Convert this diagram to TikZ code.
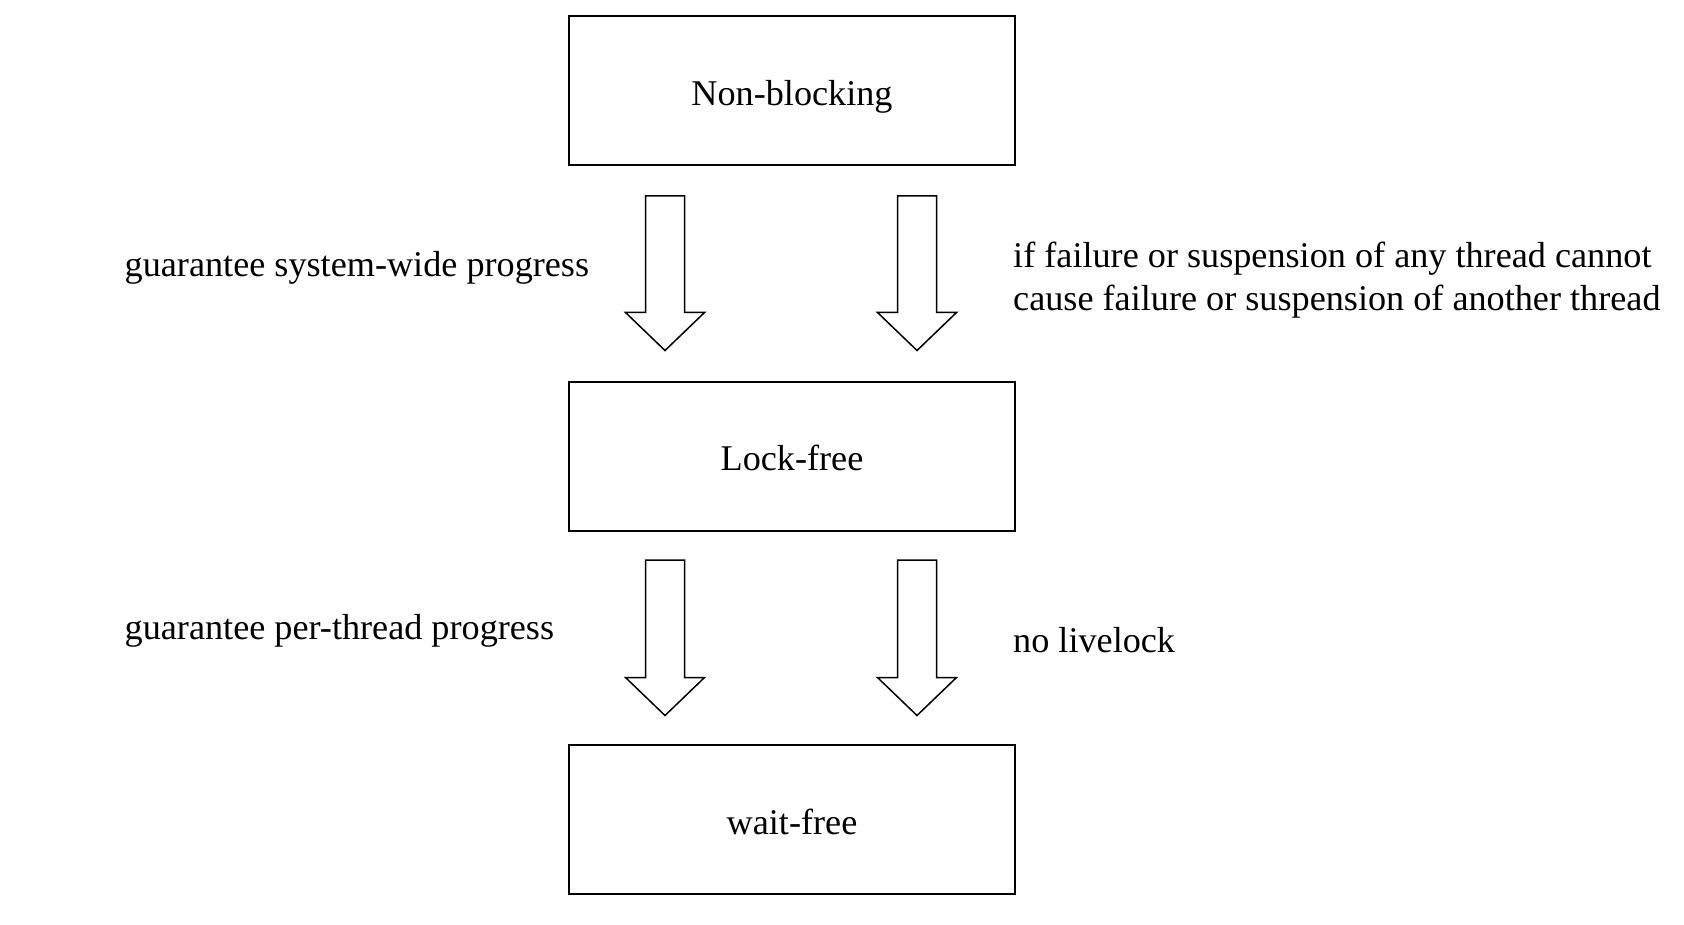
\documentclass[tikz,border=0pt]{standalone}
\usepackage{fontspec}
\setmainfont{Liberation Serif}
\newcommand{\boxtext}[2]{\smash{\raisebox{-#1}{#2}}}
\begin{document}
\begin{tikzpicture}[x=1pt,y=-1pt,
  box/.style={draw=black,line width=2pt,minimum width=446pt,minimum height=149pt,inner sep=0pt,font=\fontsize{36.2}{43}\selectfont},
  lbl/.style={inner sep=0pt,anchor=west,align=left,font=\fontsize{36.2}{43}\selectfont},
  fatarrow/.style={draw=black,line width=1.5pt,fill=white,line join=miter}]
\useasboundingbox (0,0) rectangle (1684,925);
\node[box] (nb) at (792,90.5) {\boxtext{14.7pt}{Non-blocking}};
\node[box] (lf) at (792,456) {\boxtext{14.5pt}{Lock-free}};
\node[box] (wf) at (792,819) {\boxtext{15.3pt}{wait-free}};
% arrows between Non-blocking and Lock-free
\foreach \cx/\nm in {665/a1,917/a2}{
  \draw[fatarrow] (\cx-19.5,196) -- (\cx+19.5,196) -- (\cx+19.5,312.5) -- (\cx+39.5,312.5)
     -- (\cx,350.5) -- (\cx-39.5,312.5) -- (\cx-19.5,312.5) -- cycle;
}
% arrows between Lock-free and wait-free
\foreach \cx/\nm in {665/b1,917/b2}{
  \draw[fatarrow] (\cx-19.5,560) -- (\cx+19.5,560) -- (\cx+19.5,677.5) -- (\cx+39.5,677.5)
     -- (\cx,715.5) -- (\cx-39.5,677.5) -- (\cx-19.5,677.5) -- cycle;
}
\node[lbl] (t1) at (124.5,268.3) {guarantee system-wide progress};
\node[lbl] (t2) at (1013,280.3) {if failure or suspension of any thread cannot\\cause failure or suspension of another thread};
\node[lbl] (t3) at (124.5,631.3) {guarantee per-thread progress};
\node[lbl] (t4) at (1013,640) {no livelock};
\end{tikzpicture}
\end{document}
